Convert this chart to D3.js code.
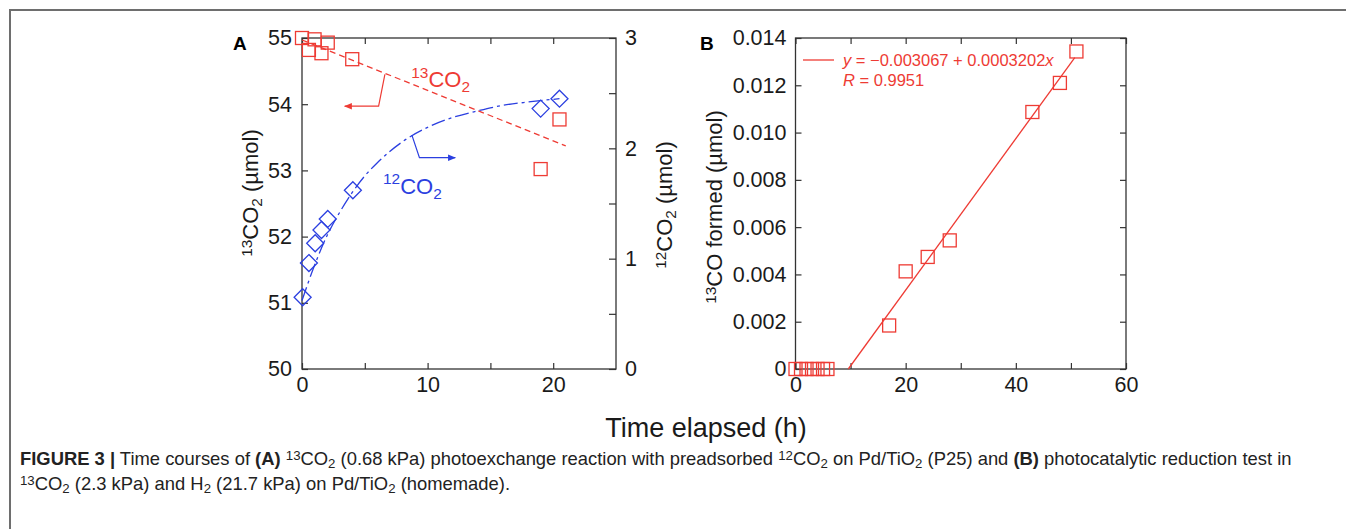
<!DOCTYPE html>
<html>
<head>
<meta charset="utf-8">
<script src="https://cdn.jsdelivr.net/npm/d3@7"></script>
<style>
  html, body { margin: 0; padding: 0; background: #fff; }
  svg { display: block; }
  text { font-family: "Liberation Sans", Arial, Helvetica, sans-serif; }
</style>
</head>
<body>
<svg id="chart" width="1346" height="529"></svg>
<script>
// ---------- DATA ----------
// Panel A: 13CO2 (left axis, µmol)
const a13Time = [0, 0.55, 1.0, 1.55, 2.05, 4.0, 19.0, 20.5];
const a13Value = [55.0, 54.82, 54.98, 54.77, 54.93, 54.68, 53.02, 53.77];
// dashed trend line for 13CO2 (endpoints)
const a13LineTime = [0, 21];
const a13LineValue = [54.97, 53.37];
// Panel A: 12CO2 (right axis, µmol)
const a12Time = [0.05, 0.55, 1.05, 1.55, 2.05, 4.05, 19.0, 20.5];
const a12Value = [0.65, 0.96, 1.14, 1.26, 1.36, 1.62, 2.36, 2.45];
// dash-dot guide curve for 12CO2
const a12CurveTime = [0, 1, 2, 3, 4, 5, 6, 8, 10, 12, 14, 16, 18, 20.5];
const a12CurveValue = [0.62, 0.94, 1.21, 1.42, 1.60, 1.75, 1.87, 2.06, 2.19, 2.28, 2.34, 2.39, 2.42, 2.45];
// Panel B: 13CO formed (µmol)
const bTime = [0, 1, 2, 3, 4, 5, 5.8, 17, 20, 24, 28, 43, 48, 51];
const bValue = [0, 0, 0, 0, 0, 0, 0, 0.00184, 0.00413, 0.00474, 0.00544, 0.01087, 0.0121, 0.01343];
// Panel B fit line endpoints
const bFitTime = [9.58, 50.7];
const bFitValue = [0, 0.01317];
// Tick values
const aXTicks = [0, 5, 10, 15, 20];
const aXLabels = [0, 10, 20];
const aYLeftTicks = [50, 51, 52, 53, 54, 55];
const aYRightTicks = [0, 0.5, 1, 1.5, 2, 2.5, 3];
const aYRightLabels = [0, 1, 2, 3];
const bXTicks = [0, 10, 20, 30, 40, 50, 60];
const bXLabels = [0, 20, 40, 60];
const bYTicks = [0, 0.002, 0.004, 0.006, 0.008, 0.010, 0.012, 0.014];

// ---------- STYLES ----------
const RED = "#ee3b34";
const BLUE = "#2b3fe0";
const FS = 21.5;
const TFS = 22;

const svg = d3.select("#chart");

// frame
svg.append("line").attr("x1", 9).attr("x2", 1346).attr("y1", 10).attr("y2", 10)
  .attr("stroke", "#6e6e6e").attr("stroke-width", 2);
svg.append("line").attr("x1", 10).attr("x2", 10).attr("y1", 9).attr("y2", 529)
  .attr("stroke", "#6e6e6e").attr("stroke-width", 2);

// ---------- SCALES ----------
const xA = d3.scaleLinear().domain([0, 25]).range([302, 616]);
const yA = d3.scaleLinear().domain([50, 55]).range([369, 38]);
const yA2 = d3.scaleLinear().domain([0, 3]).range([369, 38]);
const xB = d3.scaleLinear().domain([0, 60]).range([795.5, 1126]);
const yB = d3.scaleLinear().domain([0, 0.014]).range([369, 38]);

function styleAxis(g) {
  g.select(".domain").remove();
  g.selectAll(".tick line").attr("stroke", "#333").attr("stroke-width", 1.2);
  g.selectAll(".tick text").attr("font-size", FS).attr("fill", "#1a1a1a")
    .attr("font-family", '"Liberation Sans", Arial, sans-serif');
}
function frame(x0, x1, y0, y1) {
  svg.append("rect").attr("x", x0).attr("y", y0).attr("width", x1 - x0).attr("height", y1 - y0)
    .attr("fill", "none").attr("stroke", "#333").attr("stroke-width", 1.3);
}

// ---------- PANEL A ----------
frame(xA.range()[0], xA.range()[1], yA.range()[1], yA.range()[0]);
svg.append("g").attr("transform", `translate(0,${yA.range()[0]})`)
  .call(d3.axisBottom(xA).tickValues(aXTicks).tickSizeInner(-6).tickSizeOuter(0).tickPadding(8)
    .tickFormat(d => aXLabels.includes(d) ? d : "")).call(styleAxis);
svg.append("g").attr("transform", `translate(0,${yA.range()[1]})`)
  .call(d3.axisTop(xA).tickValues(aXTicks).tickSizeInner(-6).tickSizeOuter(0).tickFormat(""))
  .call(styleAxis);
svg.append("g").attr("transform", `translate(${xA.range()[0]},0)`)
  .call(d3.axisLeft(yA).tickValues(aYLeftTicks).tickSizeInner(-6).tickSizeOuter(0).tickPadding(10)
    .tickFormat(d3.format("d"))).call(styleAxis);
svg.append("g").attr("transform", `translate(${xA.range()[1]},0)`)
  .call(d3.axisRight(yA2).tickValues(aYRightTicks).tickSizeInner(-7).tickSizeOuter(0).tickPadding(9)
    .tickFormat(d => aYRightLabels.includes(d) ? d : "")).call(styleAxis);

// 13CO2 dashed line
svg.append("path")
  .attr("d", d3.line().x((d, i) => xA(a13LineTime[i])).y((d, i) => yA(a13LineValue[i]))(a13LineTime))
  .attr("fill", "none").attr("stroke", RED).attr("stroke-width", 1.3).attr("stroke-dasharray", "6,4");
// 12CO2 dash-dot curve
svg.append("path")
  .attr("d", d3.line().curve(d3.curveMonotoneX).x((d, i) => xA(a12CurveTime[i])).y((d, i) => yA2(a12CurveValue[i]))(a12CurveTime))
  .attr("fill", "none").attr("stroke", BLUE).attr("stroke-width", 1.3).attr("stroke-dasharray", "14,4,3,4");

// squares
const SQ = 13;
svg.append("g").selectAll("rect").data(a13Time).join("rect")
  .attr("x", (d) => xA(d) - SQ / 2).attr("y", (d, i) => yA(a13Value[i]) - SQ / 2)
  .attr("width", SQ).attr("height", SQ).attr("fill", "none").attr("stroke", RED).attr("stroke-width", 1.3);
// diamonds
const DM = 8.5;
svg.append("g").selectAll("path").data(a12Time).join("path")
  .attr("d", (d, i) => {
    const cx = xA(d), cy = yA2(a12Value[i]);
    return `M${cx},${cy - DM}L${cx + DM},${cy}L${cx},${cy + DM}L${cx - DM},${cy}Z`;
  })
  .attr("fill", "none").attr("stroke", BLUE).attr("stroke-width", 1.3);

// arrows
const defs = svg.append("defs");
function marker(id, color) {
  defs.append("marker").attr("id", id).attr("viewBox", "0 0 10 10").attr("refX", 9).attr("refY", 5)
    .attr("markerWidth", 8).attr("markerHeight", 8).attr("orient", "auto-start-reverse")
    .attr("markerUnits", "userSpaceOnUse")
    .append("path").attr("d", "M0,1L10,5L0,9Z").attr("fill", color);
}
marker("arrR", RED);
marker("arrB", BLUE);
const redArrowX = [6.6, 6.1, 3.4], redArrowY = [54.45, 53.97, 53.97];
const blueArrowX = [8.75, 9.35, 12.2], blueArrowY = [2.12, 1.915, 1.915];
svg.append("path")
  .attr("d", d3.line()(redArrowX.map((x, i) => [xA(x), yA(redArrowY[i])])))
  .attr("fill", "none").attr("stroke", RED).attr("stroke-width", 1.2).attr("marker-end", "url(#arrR)");
svg.append("path")
  .attr("d", d3.line()(blueArrowX.map((x, i) => [xA(x), yA2(blueArrowY[i])])))
  .attr("fill", "none").attr("stroke", BLUE).attr("stroke-width", 1.2).attr("marker-end", "url(#arrB)");

// species labels
function species(x, y, sup, main, sub, color, size) {
  const t = svg.append("text").attr("x", x).attr("y", y).attr("fill", color).attr("font-size", size);
  t.append("tspan").text(sup).attr("font-size", size * 0.7).attr("dy", -size * 0.42);
  t.append("tspan").text(main).attr("dy", size * 0.42);
  t.append("tspan").text(sub).attr("font-size", size * 0.7).attr("dy", size * 0.25);
  return t;
}
species(xA(8.7), yA(54.26), "13", "CO", "2", RED, 22);
species(xA(6.45), yA2(1.59), "12", "CO", "2", BLUE, 22);

// axis titles (rotated)
function rotTitle(cx, cy, parts) {
  const t = svg.append("text").attr("transform", `translate(${cx},${cy}) rotate(-90)`)
    .attr("text-anchor", "middle").attr("font-size", TFS).attr("fill", "#1a1a1a");
  parts.forEach(p => {
    const s = t.append("tspan").text(p[0]);
    if (p[1] === "sup") s.attr("font-size", TFS * 0.7).attr("baseline-shift", "40%");
    if (p[1] === "sub") s.attr("font-size", TFS * 0.7).attr("baseline-shift", "-25%");
  });
}
rotTitle(258, 193, [["13", "sup"], ["CO"], ["2", "sub"], [" (µmol)"]]);
rotTitle(672, 205, [["12", "sup"], ["CO"], ["2", "sub"], [" (µmol)"]]);
rotTitle(722, 207, [["13", "sup"], ["CO formed (µmol)"]]);

// panel letters
svg.append("text").attr("x", 233).attr("y", 50).attr("font-size", 19).attr("font-weight", "bold").text("A");
svg.append("text").attr("x", 700).attr("y", 50).attr("font-size", 19).attr("font-weight", "bold").text("B");

// ---------- PANEL B ----------
frame(xB.range()[0], xB.range()[1], yB.range()[1], yB.range()[0]);
svg.append("g").attr("transform", `translate(0,${yB.range()[0]})`)
  .call(d3.axisBottom(xB).tickValues(bXTicks).tickSizeInner(-6).tickSizeOuter(0).tickPadding(8)
    .tickFormat(d => bXLabels.includes(d) ? d : "")).call(styleAxis);
svg.append("g").attr("transform", `translate(0,${yB.range()[1]})`)
  .call(d3.axisTop(xB).tickValues(bXTicks).tickSizeInner(-6).tickSizeOuter(0).tickFormat(""))
  .call(styleAxis);
svg.append("g").attr("transform", `translate(${xB.range()[0]},0)`)
  .call(d3.axisLeft(yB).tickValues(bYTicks).tickSizeInner(-6).tickSizeOuter(0).tickPadding(9)
    .tickFormat(d => d === 0 ? "0" : d3.format(".3f")(d))).call(styleAxis);
svg.append("g").attr("transform", `translate(${xB.range()[1]},0)`)
  .call(d3.axisRight(yB).tickValues(bYTicks).tickSizeInner(-6).tickSizeOuter(0).tickFormat(""))
  .call(styleAxis);

svg.append("path")
  .attr("d", d3.line()(bFitTime.map((x, i) => [xB(x), yB(bFitValue[i])])))
  .attr("fill", "none").attr("stroke", RED).attr("stroke-width", 1.3);
svg.append("g").selectAll("rect").data(bTime).join("rect")
  .attr("x", d => xB(d) - SQ / 2).attr("y", (d, i) => yB(bValue[i]) - SQ / 2)
  .attr("width", SQ).attr("height", SQ).attr("fill", "none").attr("stroke", RED).attr("stroke-width", 1.3);

// legend
svg.append("line").attr("x1", 803).attr("x2", 834).attr("y1", 60).attr("y2", 60)
  .attr("stroke", RED).attr("stroke-width", 1.3);
const lg = svg.append("text").attr("x", 843).attr("y", 66).attr("font-size", 16.5).attr("fill", RED);
lg.append("tspan").text("y").attr("font-style", "italic");
lg.append("tspan").text(" = −0.003067 + 0.0003202");
lg.append("tspan").text("x").attr("font-style", "italic");
const lg2 = svg.append("text").attr("x", 843).attr("y", 86).attr("font-size", 16.5).attr("fill", RED);
lg2.append("tspan").text("R").attr("font-style", "italic");
lg2.append("tspan").text(" = 0.9951");

// shared x title
svg.append("text").attr("x", 706).attr("y", 437).attr("text-anchor", "middle")
  .attr("font-size", 27).attr("fill", "#1a1a1a").text("Time elapsed (h)");

// caption
const CF = 18.4;
function caption(y, parts) {
  const t = svg.append("text").attr("x", 20).attr("y", y).attr("font-size", CF).attr("fill", "#222");
  parts.forEach(p => {
    const s = t.append("tspan").text(p[0]);
    if (p[1] === "b") s.attr("font-weight", "bold");
    if (p[1] === "sup") s.attr("font-size", CF * 0.72).attr("baseline-shift", "40%");
    if (p[1] === "sub") s.attr("font-size", CF * 0.72).attr("baseline-shift", "-25%");
  });
}
caption(465, [["FIGURE 3 |", "b"], [" Time courses of "], ["(A)", "b"], [" "], ["13", "sup"], ["CO"], ["2", "sub"],
  [" (0.68 kPa) photoexchange reaction with preadsorbed "], ["12", "sup"], ["CO"], ["2", "sub"],
  [" on Pd/TiO"], ["2", "sub"], [" (P25) and "], ["(B)", "b"], [" photocatalytic reduction test in"]]);
caption(490, [["13", "sup"], ["CO"], ["2", "sub"], [" (2.3 kPa) and H"], ["2", "sub"], [" (21.7 kPa) on Pd/TiO"], ["2", "sub"], [" (homemade)."]]);
</script>
</body>
</html>
